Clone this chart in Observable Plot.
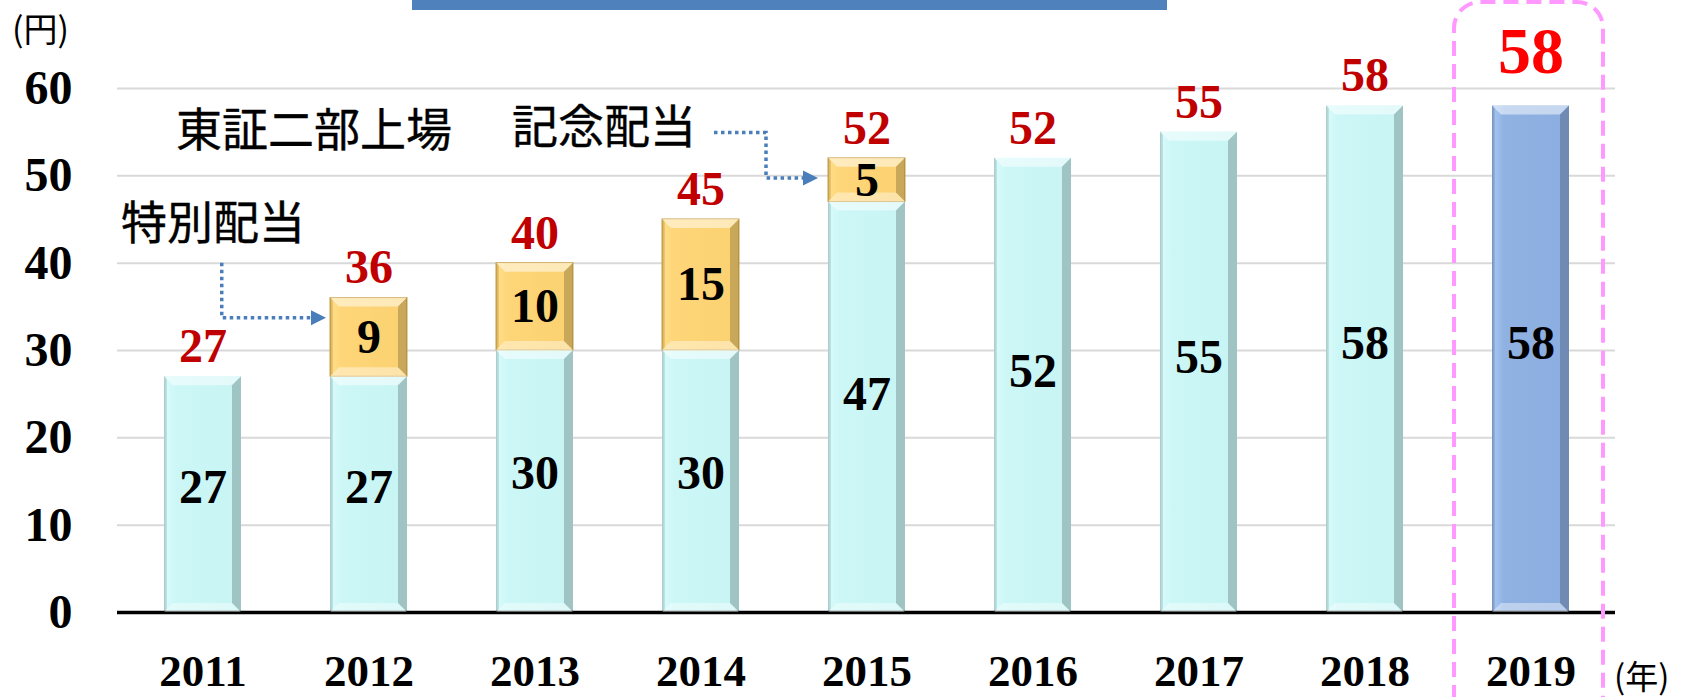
<!DOCTYPE html>
<html><head><meta charset="utf-8">
<script src="https://cdn.jsdelivr.net/npm/d3@7"></script>
<script src="https://cdn.jsdelivr.net/npm/@observablehq/plot@0.6"></script>
<style>
html,body{margin:0;padding:0;background:#fff;}
#chart svg{display:block;}
</style>
</head><body><div id="chart"></div>
<script>
const years = ["2011","2012","2013","2014","2015","2016","2017","2018","2019"];
const regular = [27, 27, 30, 30, 47, 52, 55, 58, 58];
const special = [0, 9, 10, 15, 5, 0, 0, 0, 0];
const totals = [27, 36, 40, 45, 52, 52, 55, 58, 58];
const yTicks = [0, 10, 20, 30, 40, 50, 60];
const highlightYear = "2019";
const notes = ["東証二部上場", "記念配当", "特別配当"];

const baseRows = years.map((y, i) => ({year: y, y1: 0, y2: regular[i], value: regular[i]}));
const extraRows = years.map((y, i) => ({year: y, y1: regular[i], y2: regular[i] + special[i], value: special[i]})).filter(d => d.value > 0);
const totalRows = years.map((y, i) => ({year: y, total: totals[i]}));

const serif = "Liberation Serif";
const sans = "Noto Sans CJK JP";

const num = {fontFamily: serif, fontWeight: "bold", lineAnchor: "middle"};

const chart = Plot.plot({
  width: 1690, height: 697,
  marginLeft: 117, marginRight: 75, marginTop: 88, marginBottom: 85,
  style: {fontFamily: serif, fontSize: "44px", background: "white", color: "black"},
  x: {domain: years, paddingInner: 0.537, paddingOuter: 0.2685, label: null, tickSize: 0, tickPadding: 42},
  y: {domain: [0, 60], label: null, ticks: yTicks, tickSize: 0, tickPadding: 45},
  marks: [
    Plot.gridY(yTicks, {stroke: "#d9d9d9", strokeOpacity: 1, strokeWidth: 2}),
    Plot.axisY(yTicks, {tickSize: 0, tickPadding: 45, fontSize: 48, fontFamily: serif, fontWeight: "bold", label: null}),
    Plot.axisX({tickSize: 0, tickPadding: 42, fontSize: 45, fontFamily: serif, fontWeight: "bold", label: null}),
    Plot.barY(baseRows.filter(d => d.year !== highlightYear), {x: "year", y1: "y1", y2: "y2", fill: "url(#gCyan)"}),
    Plot.barY(baseRows.filter(d => d.year === highlightYear), {x: "year", y1: "y1", y2: "y2", fill: "url(#gBlue)"}),
    Plot.barY(extraRows, {x: "year", y1: "y1", y2: "y2", fill: "url(#gGold)", stroke: "#c9a04c", strokeWidth: 1}),
    Plot.ruleY([0], {stroke: "black", strokeWidth: 3.5}),
    Plot.text(baseRows, {...num, x: "year", y: d => d.y2 * 0.53, text: d => String(d.value), fontSize: 48, fill: "black"}),
    Plot.text(extraRows, {...num, x: "year", y: d => (d.y1 + d.y2) / 2, text: d => String(d.value), fontSize: 48, fill: "black"}),
    Plot.text(totalRows.filter(d => d.year !== highlightYear), {...num, x: "year", y: "total", text: d => String(d.total), dy: -30, fontSize: 48, fill: "#c00000"}),
    Plot.text(totalRows.filter(d => d.year === highlightYear), {...num, x: "year", y: "total", text: d => String(d.total), dy: -54, fontSize: 66, fill: "#ff0000"}),
    Plot.text([notes[0]], {x: () => "2011", y: () => 55.1, text: d => d, dx: -27, textAnchor: "start", lineAnchor: "middle", fontFamily: sans, fontSize: 46, fill: "black", stroke: "black", strokeWidth: 0.4, letterSpacing: 1.5}),
    Plot.text([notes[1]], {x: () => "2013", y: () => 55.4, text: d => d, dx: -23, textAnchor: "start", lineAnchor: "middle", fontFamily: sans, fontSize: 46, fill: "black", stroke: "black", strokeWidth: 0.4, letterSpacing: 1.5}),
    Plot.text([notes[2]], {x: () => "2011", y: () => 44.4, text: d => d, dx: -82, textAnchor: "start", lineAnchor: "middle", fontFamily: sans, fontSize: 46, fill: "black", stroke: "black", strokeWidth: 0.4, letterSpacing: 1.5})
  ]
});
document.getElementById("chart").appendChild(chart);

const svg = d3.select(chart);
// force serif face on all numeric labels
svg.selectAll("text").each(function() {
  const t = d3.select(this);
  if (/^\s*\d+\s*$/.test(t.text())) t.style("font-family", "'Liberation Serif', serif").style("font-weight", "bold").style("font-variant", "normal");
});

const X = chart.scale("x"), Y = chart.scale("y");
const bw = X.bandwidth;
const xs = v => X.apply(v), ys = v => Y.apply(v);

// gradients
const defs = svg.insert("defs", ":first-child");
function hgrad(id, stops) {
  const g = defs.append("linearGradient").attr("id", id).attr("x1", 0).attr("x2", 1).attr("y1", 0).attr("y2", 0);
  stops.forEach(([o, c]) => g.append("stop").attr("offset", o).attr("stop-color", c));
}
hgrad("gCyan", [[0, "#b4dcdc"], [0.04, "#d6fafa"], [0.15, "#cdf7f7"], [1, "#c8f4f4"]]);
hgrad("gGold", [[0, "#e8b955"], [0.04, "#ffdc85"], [0.15, "#fed679"], [1, "#fbd170"]]);
hgrad("gBlue", [[0, "#7f9fcc"], [0.04, "#a2c3f2"], [0.15, "#90b2e2"], [1, "#8cade0"]]);

// bevel overlays
const bev = svg.append("g").attr("pointer-events", "none");
svg.selectAll('g[aria-label="bar"] rect').each(function() {
  const r = d3.select(this);
  const x = +r.attr("x"), y = +r.attr("y"), w = +r.attr("width"), h = +r.attr("height");
  const b = Math.min(9, h / 3);
  const poly = (pts, fill, op) => bev.append("polygon").attr("points", pts.map(p => p.join(",")).join(" ")).attr("fill", fill).attr("fill-opacity", op);
  poly([[x, y], [x + w, y], [x + w - b, y + b], [x + b, y + b]], "white", 0.5);
  poly([[x, y + h], [x + w, y + h], [x + w - b, y + h - b], [x + b, y + h - b]], "white", 0.4);
  poly([[x + w, y], [x + w, y + h], [x + w - b, y + h - b], [x + w - b, y + b]], "black", 0.2);
  poly([[x, y], [x, y + h], [x + 3, y + h - 3], [x + 3, y + 3]], "black", 0.08);
});
// move text above bevels
svg.selectAll('g[aria-label="text"]').raise();

// arrows (dotted, blue)
const arrowColor = "#4a7ebb";
function arrow(points) {
  const last = points[points.length - 1];
  bev.append("path").attr("d", d3.line()(points.slice(0, -1).concat([[last[0] - 12, last[1]]])))
    .attr("fill", "none").attr("stroke", arrowColor).attr("stroke-width", 3.5).attr("stroke-dasharray", "3.5 3.5");
  const [tx, ty] = last;
  bev.append("polygon").attr("points", `${tx},${ty} ${tx - 15},${ty - 7.5} ${tx - 15},${ty + 7.5}`).attr("fill", arrowColor);
}
const ax1 = xs("2011") + 0.75 * bw;
arrow([[ax1, ys(40)], [ax1, ys(33.7)], [xs("2012") - 4, ys(33.7)]]);
const ax2 = xs("2015") - 62;
arrow([[xs("2013") + 218, ys(54.9)], [ax2, ys(54.9)], [ax2, ys(49.7)], [xs("2015") - 10, ys(49.7)]]);

// highlight box for 2019 (pink dashed, rounded top)
const pl = xs(highlightYear) - 38, pr = xs(highlightYear) + bw + 34, pt = 2, rr = 26;
svg.append("path")
  .attr("d", `M${pl},700 V${pt + rr} A${rr},${rr} 0 0 1 ${pl + rr},${pt} H${pr - rr} A${rr},${rr} 0 0 1 ${pr},${pt + rr} V700`)
  .attr("fill", "none").attr("stroke", "#ff99ff").attr("stroke-width", 4).attr("stroke-dasharray", "15 8");

// top decorative bar
svg.append("rect").attr("x", 412).attr("y", 0).attr("width", 755).attr("height", 10).attr("fill", "#4f81bd");

// unit labels
svg.append("text").attr("x", 12).attr("y", 30).attr("dy", "0.35em").attr("text-anchor", "start").attr("font-family", sans).attr("font-size", 34).attr("fill", "black").text("(円)");
svg.append("text").attr("x", 1614).attr("y", 677).attr("dy", "0.35em").attr("text-anchor", "start").attr("font-family", sans).attr("font-size", 33).attr("fill", "black").text("(年)");
</script>
</body></html>
